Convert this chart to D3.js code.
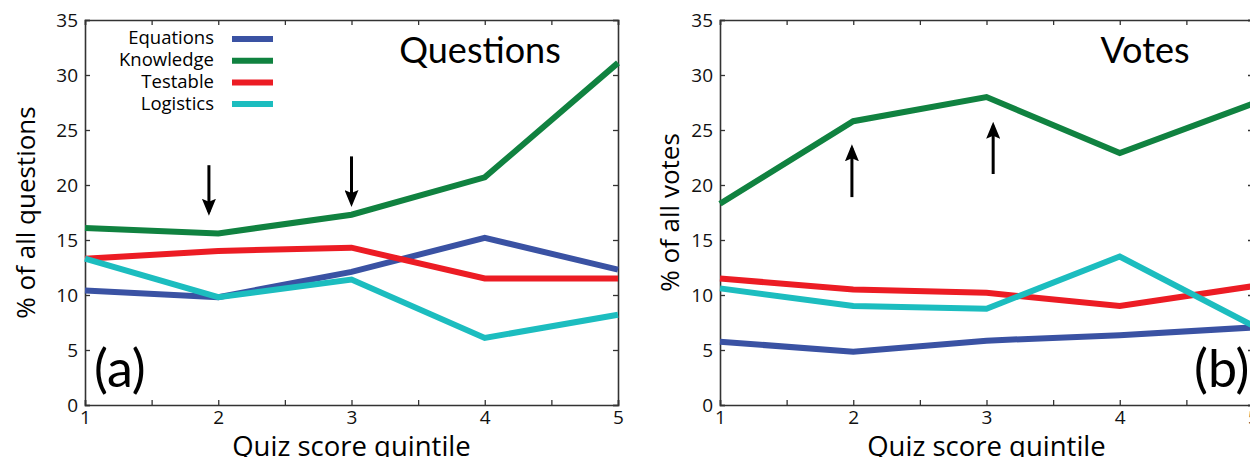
<!DOCTYPE html>
<html>
<head>
<meta charset="utf-8">
<script src="https://cdn.jsdelivr.net/npm/d3@7"></script>
<style>
  body { margin: 0; background: #fff; }
  svg { display: block; }
</style>
</head>
<body>
<div id="chart"></div>
<script>
// quintiles on the x axis
const quintiles = [1, 2, 3, 4, 5];
const seriesNames = ["Equations", "Knowledge", "Testable", "Logistics"];
const seriesColors = ["#3a52a3", "#108240", "#ec1c24", "#1cbdbf"];

// (a) % of all questions
const qEquations = [10.4, 9.8, 12.1, 15.2, 12.3];
const qKnowledge = [16.1, 15.6, 17.3, 20.7, 31.1];
const qTestable = [13.3, 14.0, 14.3, 11.5, 11.5];
const qLogistics = [13.3, 9.8, 11.4, 6.1, 8.2];

// (b) % of all votes
const vEquations = [5.75, 4.85, 5.85, 6.35, 7.05];
const vKnowledge = [18.3, 25.8, 28.0, 22.9, 27.4];
const vTestable = [11.5, 10.5, 10.2, 9.0, 10.8];
const vLogistics = [10.6, 9.0, 8.75, 13.5, 7.2];

// arrows: x position, tail value, tip value
const qArrows = [[1.93, 21.8, 17.2], [3.0, 22.6, 18.0]];
const vArrows = [[1.99, 18.9, 23.7], [3.05, 21.0, 25.75]];

const yTicks = [0, 5, 10, 15, 20, 25, 30, 35];

const width = 1250, height = 457;
const svg = d3.select("#chart").append("svg")
    .attr("width", width)
    .attr("height", height);

// arrow head, tip sits 4px past the end of the shaft
const defs = svg.append("defs");
defs.append("marker")
    .attr("id", "head")
    .attr("markerUnits", "userSpaceOnUse")
    .attr("viewBox", "0 0 17 14")
    .attr("refX", 13).attr("refY", 7)
    .attr("markerWidth", 17).attr("markerHeight", 14)
    .attr("orient", "auto")
    .append("path")
    .attr("d", "M0,0 L17,7 L0,14 L3,7 Z")
    .attr("fill", "#000");

const panels = [
    {left: 85, right: 618, title: "Questions", titleX: 480, tag: "(a)", tagX: 94,
     ylabel: "% of all questions", ylabelX: 35,
     series: [qEquations, qKnowledge, qTestable, qLogistics], arrows: qArrows, legend: true},
    {left: 720, right: 1253, title: "Votes", titleX: 1145, tag: "(b)", tagX: 1194,
     ylabel: "% of all votes", ylabelX: 679,
     series: [vEquations, vKnowledge, vTestable, vLogistics], arrows: vArrows, legend: false}
];

const plotTop = 20, plotBottom = 405;
const tickFont = "'Open Sans', 'Noto Sans', sans-serif";
const bigFont = "Lato, 'Open Sans', sans-serif";

panels.forEach(p => {
    const x = d3.scaleLinear().domain([1, 5]).range([p.left, p.right]);
    const y = d3.scaleLinear().domain([0, 35]).range([plotBottom, plotTop]);
    const g = svg.append("g");

    const halfSteps = d3.range(1, 5.01, 0.5);

    // box axes with inward ticks
    const axB = g.append("g").attr("transform", `translate(0,${plotBottom})`)
        .call(d3.axisBottom(x).tickValues(halfSteps).tickSize(-5).tickPadding(5)
            .tickFormat(d => Number.isInteger(d) ? d : ""));
    const axT = g.append("g").attr("transform", `translate(0,${plotTop})`)
        .call(d3.axisTop(x).tickValues(halfSteps).tickSize(-5).tickFormat(""));
    const axL = g.append("g").attr("transform", `translate(${p.left},0)`)
        .call(d3.axisLeft(y).tickValues(yTicks).tickSize(-5).tickPadding(7));
    const axR = g.append("g").attr("transform", `translate(${p.right},0)`)
        .call(d3.axisRight(y).tickValues(yTicks).tickSize(-5).tickFormat(""));

    [axB, axT, axL, axR].forEach(a => {
        a.select(".domain").attr("stroke", "#333").attr("stroke-width", 1.6);
        a.selectAll(".tick line").attr("stroke", "#333").attr("stroke-width", 1.3);
        a.selectAll("text").attr("font-family", tickFont).attr("font-size", 19).attr("fill", "#111");
    });

    // series lines
    const line = d3.line().x((d, i) => x(quintiles[i])).y(d => y(d));
    p.series.forEach((s, k) => {
        g.append("path")
            .datum(s)
            .attr("d", line)
            .attr("fill", "none")
            .attr("stroke", seriesColors[k])
            .attr("stroke-width", 6)
            .attr("stroke-linejoin", "miter");
    });

    // arrows
    p.arrows.forEach(a => {
        const y1 = y(a[1]), y2 = y(a[2]);
        const dir = Math.sign(y2 - y1);
        g.append("line")
            .attr("x1", x(a[0])).attr("x2", x(a[0]))
            .attr("y1", y1).attr("y2", y2 - dir * 4)
            .attr("stroke", "#000")
            .attr("stroke-width", 3)
            .attr("marker-end", "url(#head)");
    });

    // titles and labels
    g.append("text")
        .attr("x", p.titleX).attr("y", 63)
        .attr("text-anchor", "middle")
        .attr("font-family", bigFont).attr("font-size", 36)
        .text(p.title);

    g.append("text")
        .attr("x", p.tagX).attr("y", 387)
        .attr("font-family", bigFont).attr("font-size", 52)
        .text(p.tag);

    g.append("text")
        .attr("transform", `translate(${p.ylabelX},${(plotTop + plotBottom) / 2}) rotate(-90)`)
        .attr("text-anchor", "middle")
        .attr("font-family", tickFont).attr("font-size", 26)
        .text(p.ylabel);

    g.append("text")
        .attr("x", (p.left + p.right) / 2).attr("y", 456)
        .attr("text-anchor", "middle")
        .attr("font-family", tickFont).attr("font-size", 27.5)
        .text("Quiz score quintile");

    if (p.legend) {
        const lg = g.append("g");
        seriesNames.forEach((name, k) => {
            const yy = 38 + k * 21.7;
            lg.append("text")
                .attr("x", 214).attr("y", yy)
                .attr("dy", "0.35em")
                .attr("text-anchor", "end")
                .attr("font-family", tickFont).attr("font-size", 18.5)
                .text(name);
            lg.append("line")
                .attr("x1", 232).attr("x2", 273)
                .attr("y1", yy + 1).attr("y2", yy + 1)
                .attr("stroke", seriesColors[k])
                .attr("stroke-width", 6);
        });
    }
});
</script>
</body>
</html>
